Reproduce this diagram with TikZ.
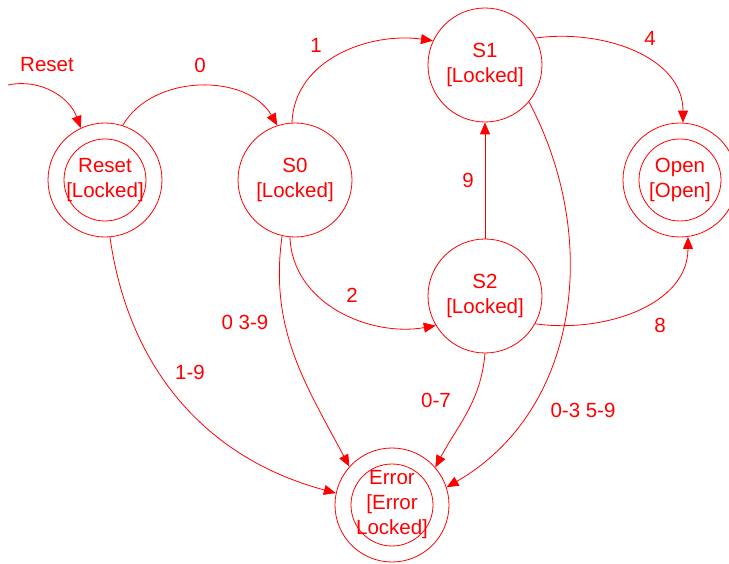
\documentclass[tikz,border=0pt]{standalone}
\usepackage{fontspec}
\setmainfont{Liberation Sans}
\usetikzlibrary{arrows.meta}

\tikzset{
  state/.style={circle,draw=red,line width=0.8pt,minimum size=114pt,inner sep=0pt,
    align=center,text=red,font=\fontsize{20.5}{25}\selectfont},
  accept/.style={state,path picture={\draw[red,line width=0.8pt]
    (path picture bounding box.center) circle (41pt);}},
  trans/.style={draw=red,line width=0.8pt,-{Triangle[length=12pt,width=10pt]}},
  lbl/.style={text=red,inner sep=0pt,font=\fontsize{20.5}{25}\selectfont}
}

\begin{document}
\begin{tikzpicture}[x=1pt,y=1pt]
  \useasboundingbox (0,0) rectangle (729,563);

  % states
  \node[accept] (reset) at (105,383) {Reset\\{}[Locked]};
  \node[state]  (s0)    at (295,383) {S0\\{}[Locked]};
  \node[state]  (s1)    at (485,498) {S1\\{}[Locked]};
  \node[state]  (s2)    at (485,267) {S2\\{}[Locked]};
  \node[accept] (open)  at (680,383) {Open\\{}[Open]};
  \node[accept] (error) at (392,58)  {Error\\{}[Error\\Locked]};

  % entry point
  \coordinate (start) at (8,478);
  \draw[trans] (start) to[out=12,in=110] (reset.115);

  % transitions
  \draw[trans] (reset.72) to[out=60,in=120] (s0.108);
  \draw[trans] (s0.93) to[out=88,in=172] (s1.155);
  \draw[trans] (s1.28) to[out=8,in=90] (open.87);
  \draw[trans] (s2) -- (s1);
  \draw[trans] (s0.265) to[out=272,in=190] (s2.211);
  \draw[trans] (s2.-29) to[out=-8,in=270] (open.-82);
  \draw[trans] (reset.-85) to[out=-82,in=165] (error.168);
  \draw[trans] (s0.-103) to[out=-98,in=118] (error.138);
  \draw[trans] (s2.-90) to[out=-95,in=62] (error.41);
  \draw[trans] (s1.-40) to[out=-62,in=30] (error.18);

  % transition labels
  \node[lbl] (lreset) at (47,498)  {Reset};
  \node[lbl] (l0)     at (200,498) {0};
  \node[lbl] (l1)     at (316,518) {1};
  \node[lbl] (l4)     at (650,525) {4};
  \node[lbl] (l9)     at (468,383) {9};
  \node[lbl] (l2)     at (352,268) {2};
  \node[lbl] (l8)     at (660,238) {8};
  \node[lbl] (l19)    at (190,191) {1-9};
  \node[lbl] (l039)   at (245,241) {0 3-9};
  \node[lbl] (l07)    at (436,163) {0-7};
  \node[lbl] (l0359)  at (583,153) {0-3 5-9};
\end{tikzpicture}
\end{document}
